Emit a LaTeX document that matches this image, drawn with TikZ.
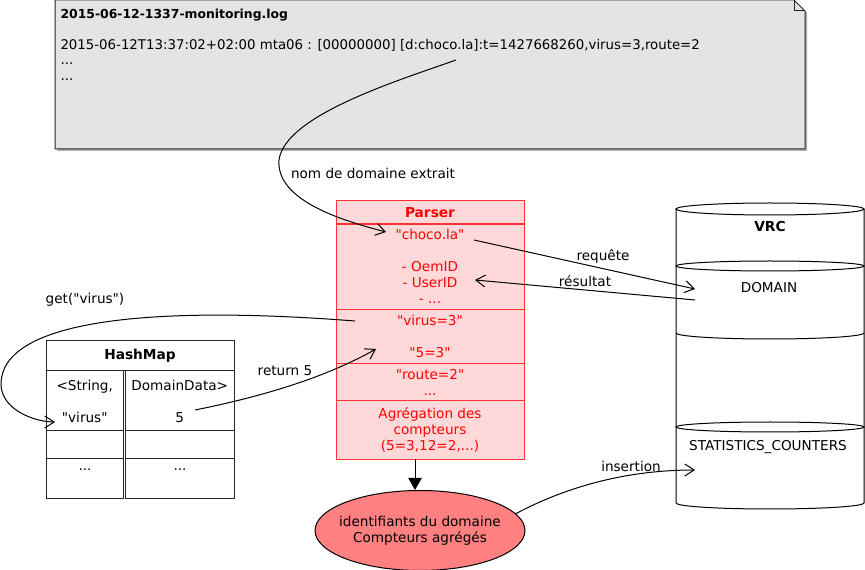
\documentclass[tikz,border=0pt]{standalone}
\usepackage{fontspec}
\setmainfont{DejaVuSans}[Extension=.ttf, BoldFont=DejaVuSans-Bold, Ligatures=TeXOff]
\usetikzlibrary{arrows.meta,shapes.geometric}
\definecolor{notegray}{RGB}{228,228,228}
\definecolor{parserfill}{RGB}{255,217,217}
\definecolor{parserline}{RGB}{255,51,51}
\definecolor{ovalfill}{RGB}{255,128,128}
\tikzset{every picture/.style={line width=0.75pt}}

\begin{document}
\begin{tikzpicture}[x=0.75pt,y=0.75pt,yscale=-1,xscale=1,
  txt/.style={font=\fontsize{10.2}{12}\selectfont, inner sep=0pt, align=center},
  boldtxt/.style={txt, font=\fontsize{10.3}{12}\selectfont\bfseries},
  prow/.style={txt, text=red, draw=parserline, fill=parserfill, minimum width=141pt},
  cell/.style={txt, draw=black!85},
  barb/.style={-{Straight Barb[length=7pt,width=9pt]}},
  fillarrow/.style={-{Triangle[length=9pt,width=10pt]}}]
\useasboundingbox (0,0) rectangle (865,570);

%Shape: Note [log file]
\fill [black, opacity=0.3] (57,2) -- (796,2) -- (807,13) -- (807,151) -- (57,151) -- cycle ;
\draw [fill=notegray, draw=black!85] (55,0) -- (794,0) -- (805,11) -- (805,149) -- (55,149) -- cycle ;
\draw [draw=black!85] (794,0) -- (794,11) -- (805,11) ;

% Text Node
\node [boldtxt, font=\fontsize{9.3}{12}\selectfont\bfseries, anchor=base west] (logtitle) at (60,18.5) {2015-06-12-1337-monitoring.log};
% Text Node
\node [txt, font=\fontsize{10}{12}\selectfont, anchor=base west] (logline) at (60,49.5) {2015-06-12T13:37:02+02:00 mta06 : [00000000] [d:choco.la]:t=1427668260,virus=3,route=2};
% Text Node
\node [txt, anchor=base west] (logdotsa) at (60,65) {...};
% Text Node
\node [txt, anchor=base west] (logdotsb) at (60,81) {...};

%Shape: Parser table
\node [prow, minimum height=17.25pt, font=\fontsize{10.3}{12}\selectfont\bfseries] (phead) at (430,212.5) {Parser};
\node [prow, minimum height=64.1pt] (prow1) at (430,266.75) {"choco.la"\\[12pt]- OemID\\- UserID\\- ...};
\node [prow, minimum height=40.5pt] (prow2) at (430,336.5) {"virus=3"\\[12pt]"5=3"};
\node [prow, minimum height=27.75pt] (prow3) at (430,382) {"route=2"\\...};
\node [prow, minimum height=44.25pt] (prow4) at (430,430) {Agrégation des\\compteurs\\(5=3,12=2,...)};

%Shape: Ellipse [result]
\node [txt, ellipse, draw, fill=ovalfill, inner xsep=-5pt, minimum width=157.5pt, minimum height=60pt] (oval) at (420,530.5) {identifiants du domaine\\Compteurs agrégés};

%Shape: HashMap table
\node [cell, minimum width=141pt, minimum height=22.5pt, font=\fontsize{10.3}{12}\selectfont\bfseries] (hhead) at (140,356) {HashMap};
\node [cell, minimum width=58.1pt, minimum height=45pt] (hkey) at (84.75,401) {<String,\\[12pt]"virus"};
\node [cell, minimum width=81.4pt, minimum height=45pt] (hval) at (179.75,401) {DomainData>\\[12pt]5};
\node [cell, minimum width=58.1pt, minimum height=21pt] (hkeyb) at (84.75,445) {};
\node [cell, minimum width=81.4pt, minimum height=21pt] (hvalb) at (179.75,445) {};
\node [cell, minimum width=58.1pt, minimum height=30pt] (hkeyc) at (84.75,479) {};
\node [cell, minimum width=81.4pt, minimum height=30pt] (hvalc) at (179.75,479) {};
\node [txt] (hkeydots) at (85,470) {...};
\node [txt] (hvaldots) at (180,470) {...};

%Shape: Cylinder [VRC]
\draw [fill=white] (676,209) -- (676,503) arc [start angle=180, end angle=0, x radius=94, y radius=6] -- (864,209) ;
\draw [fill=white] (770,209) ellipse [x radius=94, y radius=6] ;
\draw (770,266) ellipse [x radius=94, y radius=5] ;
\draw (676,333) arc [start angle=180, end angle=0, x radius=94, y radius=6] ;
\draw (770,427) ellipse [x radius=94, y radius=5] ;
\node [boldtxt] (vrc) at (770,227) {VRC};
\node [txt] (domain) at (769,288) {DOMAIN};
\node [txt] (stats) at (768,447) {STATISTICS\_COUNTERS};

% connector ends
\coordinate (domfield) at (456,60);
\coordinate (chocoin) at (386,232);
\coordinate (chocoout) at (474,240);
\coordinate (domainin) at (695,289);
\coordinate (domainout) at (695,300);
\coordinate (idsin) at (475,280);
\coordinate (virusout) at (355,321);
\coordinate (keyin) at (55,422);
\coordinate (valout) at (195,410);
\coordinate (fivein) at (376,349);
\coordinate (statsin) at (695,470);
\coordinate (aggout) at (415,459.5);

%Curve Lines
\draw [barb] (domfield) .. controls (400,80) and (285,115) .. (279,160) .. controls (276,200) and (340,220) .. (chocoin) ;
\draw [barb] (chocoout) -- (domainin) ;
\draw [barb] (domainout) -- (idsin) ;
\draw [barb] (virusout) .. controls (150,305) and (0,320) .. (1,385) .. controls (2,410) and (35,422) .. (keyin) ;
\draw [barb] (valout) .. controls (270,395) and (330,375) .. (fivein) ;
\draw [fillarrow] (aggout) -- (aggout |- oval.north) ;
\draw [barb] (oval.10) .. controls (570,485) and (630,470) .. (statsin) ;

% Text Node
\node [txt] (lblextract) at (373,173) {nom de domaine extrait};
% Text Node
\node [txt] (lblreq) at (603,256) {requête};
% Text Node
\node [txt] (lblres) at (585,281) {résultat};
% Text Node
\node [txt] (lblget) at (85,300) {get("virus")};
% Text Node
\node [txt] (lblret) at (285,371) {return 5};
% Text Node
\node [txt] (lblins) at (631,466) {insertion};

\end{tikzpicture}
\end{document}
